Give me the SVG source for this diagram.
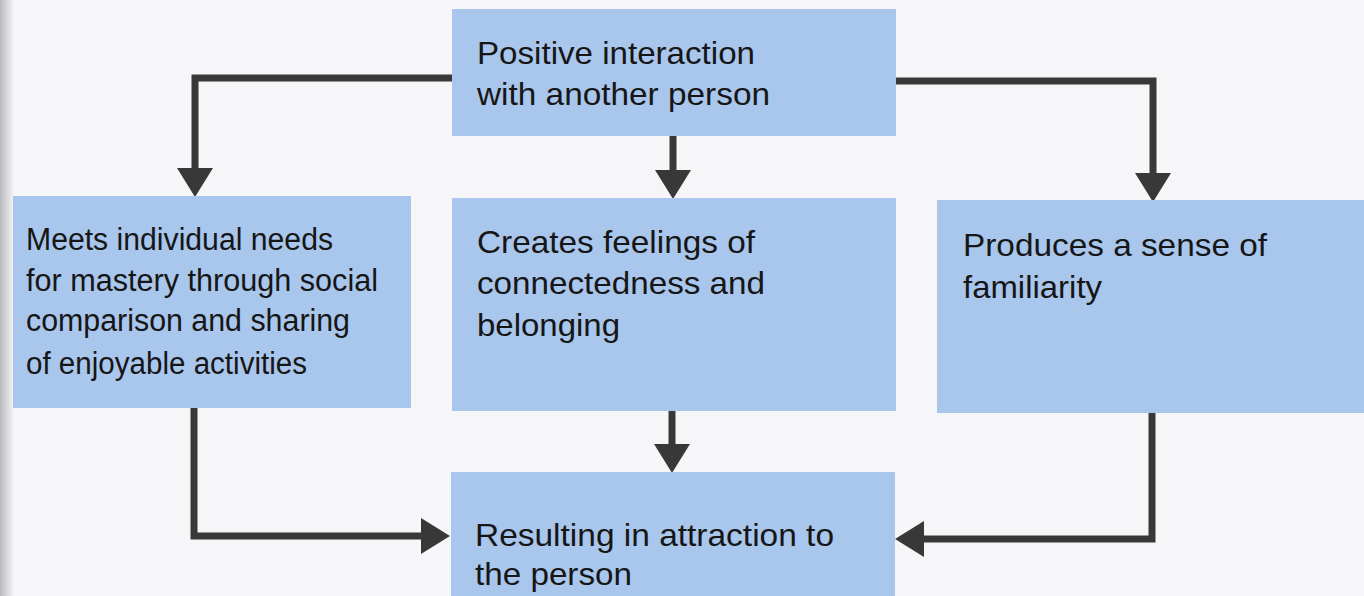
<svg xmlns="http://www.w3.org/2000/svg" width="1364" height="596" viewBox="0 0 1364 596">
  <style>
    .box { fill: #a9c6ec; }
    .lbl { font-family: "Liberation Sans", Arial, sans-serif; font-size: 32px; fill: #161616; }
    .narrow { font-size: 31px; }
    .conn { fill: none; stroke: #383838; stroke-width: 7; stroke-linejoin: miter; marker-end: url(#head); }
  </style>
  <defs>
    <marker id="head" markerUnits="userSpaceOnUse" markerWidth="30" markerHeight="36" refX="0" refY="18" orient="auto" viewBox="0 0 30 36">
      <path d="M0,0 L29,18 L0,36 z" fill="#383838"/>
    </marker>
    <linearGradient id="edge" x1="0" y1="0" x2="1" y2="0">
      <stop offset="0" stop-color="#b9b9bb"/>
      <stop offset="1" stop-color="#f6f6f8"/>
    </linearGradient>
  </defs>
  <rect x="0" y="0" width="1364" height="596" fill="#f6f6f8"/>
  <rect x="0" y="0" width="14" height="596" fill="url(#edge)"/>

  <g id="connectors">
    <path class="conn" d="M452,78 H195 V168"/>
    <path class="conn" d="M673,136 V170"/>
    <path class="conn" d="M896,81 H1153 V173"/>
    <path class="conn" d="M194,408 V536 H421"/>
    <path class="conn" d="M672,411 V444"/>
    <path class="conn" d="M1152,413 V539 H924"/>
  </g>

  <g id="node-positive-interaction">
    <rect class="box" x="452" y="9" width="444" height="127"/>
    <text class="lbl" x="477" y="64" textLength="278" lengthAdjust="spacingAndGlyphs">Positive interaction</text>
    <text class="lbl" x="477" y="105" textLength="293" lengthAdjust="spacingAndGlyphs">with another person</text>
  </g>

  <g id="node-meets-needs">
    <rect class="box" x="13" y="196" width="398" height="212"/>
    <text class="lbl narrow" x="26" y="250" textLength="307" lengthAdjust="spacingAndGlyphs">Meets individual needs</text>
    <text class="lbl narrow" x="26" y="291" textLength="352" lengthAdjust="spacingAndGlyphs">for mastery through social</text>
    <text class="lbl narrow" x="26" y="331" textLength="324" lengthAdjust="spacingAndGlyphs">comparison and sharing</text>
    <text class="lbl narrow" x="26" y="374" textLength="281" lengthAdjust="spacingAndGlyphs">of enjoyable activities</text>
  </g>

  <g id="node-connectedness">
    <rect class="box" x="452" y="198" width="444" height="213"/>
    <text class="lbl" x="477" y="253" textLength="278" lengthAdjust="spacingAndGlyphs">Creates feelings of</text>
    <text class="lbl" x="477" y="294" textLength="288" lengthAdjust="spacingAndGlyphs">connectedness and</text>
    <text class="lbl" x="477" y="336" textLength="143" lengthAdjust="spacingAndGlyphs">belonging</text>
  </g>

  <g id="node-familiarity">
    <rect class="box" x="937" y="200" width="427" height="213"/>
    <text class="lbl" x="963" y="256" textLength="304" lengthAdjust="spacingAndGlyphs">Produces a sense of</text>
    <text class="lbl" x="963" y="298" textLength="139" lengthAdjust="spacingAndGlyphs">familiarity</text>
  </g>

  <g id="node-attraction">
    <rect class="box" x="451" y="472" width="444" height="124"/>
    <text class="lbl" x="475" y="546" textLength="359" lengthAdjust="spacingAndGlyphs">Resulting in attraction to</text>
    <text class="lbl" x="475" y="585" textLength="157" lengthAdjust="spacingAndGlyphs">the person</text>
  </g>
</svg>
